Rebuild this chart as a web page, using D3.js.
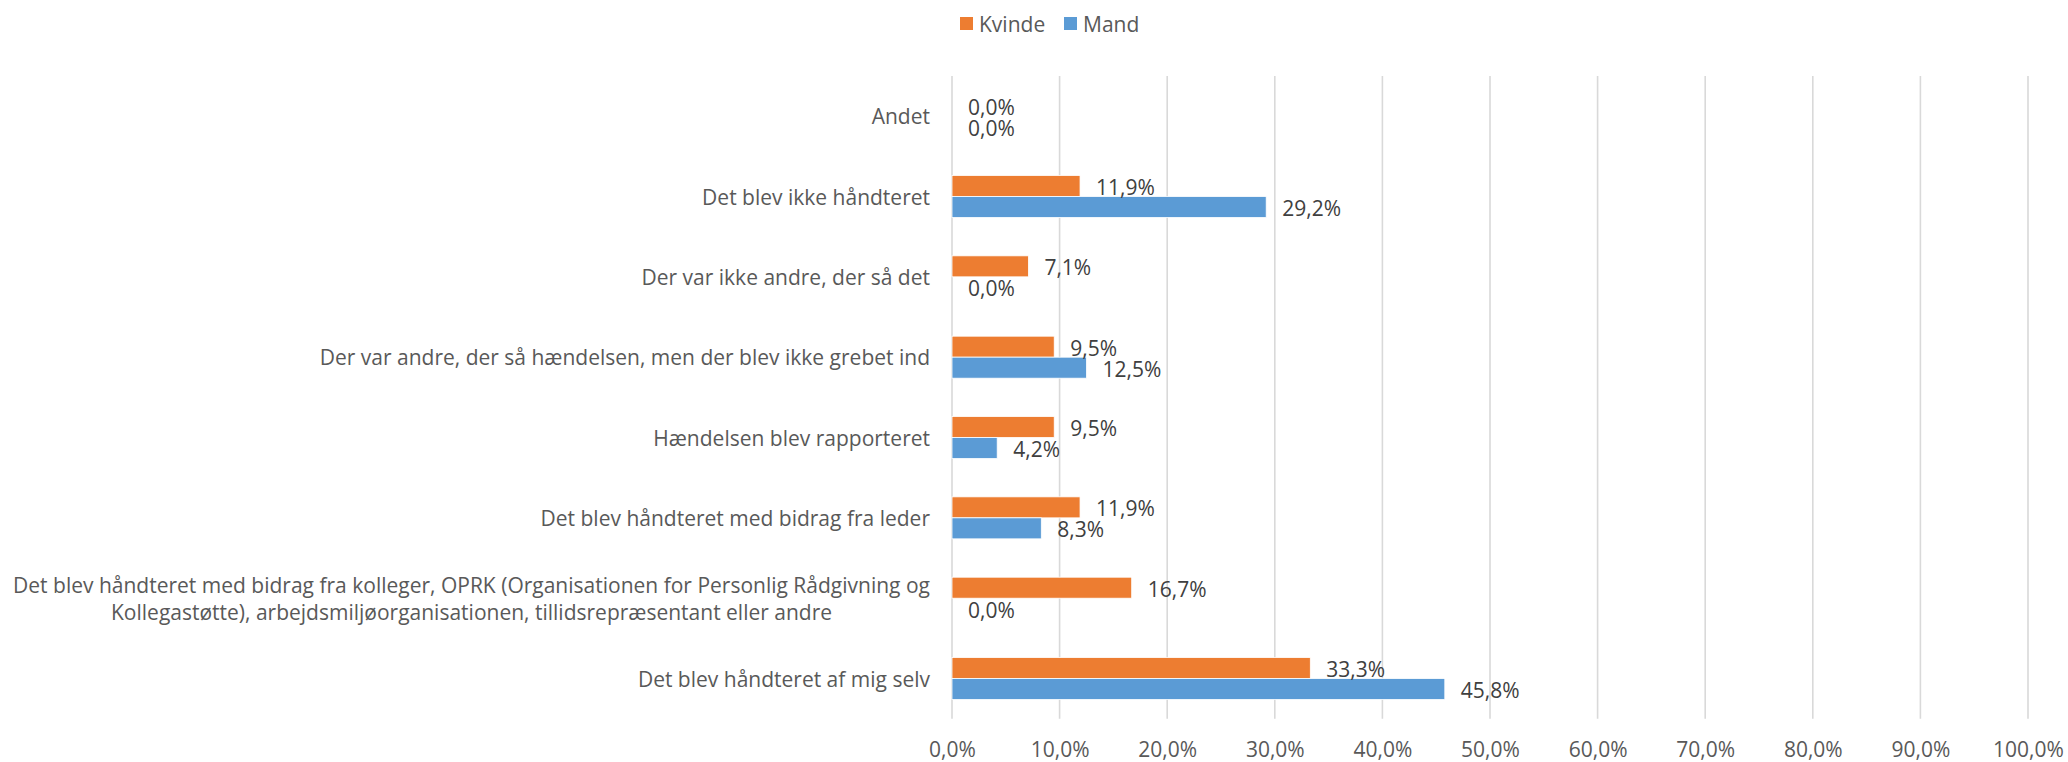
<!DOCTYPE html>
<html lang="da">
<head>
<meta charset="UTF-8" />
<title>Håndtering af hændelser</title>
<script src="https://d3js.org/d3.v7.min.js"></script>
<style>
  body { margin: 0; background: #fff; }
  text { font-family: "Open Sans", sans-serif; font-size: 21px; }
</style>
</head>
<body>
<script>
// kategorier (oppefra og ned), "\n" markerer linjeskift
const categories = [
  "Andet",
  "Det blev ikke håndteret",
  "Der var ikke andre, der så det",
  "Der var andre, der så hændelsen, men der blev ikke grebet ind",
  "Hændelsen blev rapporteret",
  "Det blev håndteret med bidrag fra leder",
  "Det blev håndteret med bidrag fra kolleger, OPRK (Organisationen for Personlig Rådgivning og\nKollegastøtte), arbejdsmiljøorganisationen, tillidsrepræsentant eller andre",
  "Det blev håndteret af mig selv"
];
const seriesNames = ["Kvinde", "Mand"];
const kvinde = [0, 11.9, 7.1, 9.5, 9.5, 11.9, 16.7, 33.3];
const mand = [0, 29.2, 0, 12.5, 4.2, 8.3, 0, 45.8];
const xTicks = [0, 10, 20, 30, 40, 50, 60, 70, 80, 90, 100];

const colors = { Kvinde: "#ED7D31", Mand: "#5B9BD5" };

const W = 2068, H = 762;
const plotLeft = 952, plotRight = 2028, plotTop = 76, plotBottom = 718.7;

const rows = categories.map((c, i) => ({ cat: c, Kvinde: kvinde[i], Mand: mand[i] }));

const svg = d3.select("body").append("svg")
  .attr("width", W).attr("height", H);

const x = d3.scaleLinear().domain([0, 100]).range([plotLeft, plotRight]);
const y = d3.scaleBand().domain(categories).range([plotTop, plotBottom]).padding(0);
const barH = 21;
const ySub = d3.scaleBand().domain(seriesNames)
  .range([y.bandwidth() / 2 - barH, y.bandwidth() / 2 + barH]);

const fmt = v => d3.format(".1f")(v).replace(".", ",") + "%";

// gitterlinjer
svg.append("g").selectAll("line")
  .data(xTicks).join("line")
  .attr("x1", d => x(d)).attr("x2", d => x(d))
  .attr("y1", plotTop).attr("y2", plotBottom)
  .attr("stroke", "#d9d9d9").attr("stroke-width", 1.6);

// x-akse
const xAxis = svg.append("g")
  .attr("transform", `translate(0,${plotBottom})`)
  .call(d3.axisBottom(x).tickValues(xTicks).tickSize(0).tickPadding(0).tickFormat(fmt));
xAxis.select(".domain").remove();
xAxis.selectAll("text")
  .attr("y", 0).attr("dy", 38)
  .attr("fill", "#595959")
  .style("font-family", "Open Sans").style("font-size", "21px");

// kategoriakse
const yAxis = svg.append("g")
  .attr("transform", `translate(${plotLeft},0)`)
  .call(d3.axisLeft(y).tickSize(0).tickPadding(22));
yAxis.select(".domain").remove();
yAxis.selectAll("text").each(function (d) {
  const t = d3.select(this);
  const lines = d.split("\n");
  const lh = 26.6;
  t.text(null).attr("dy", null).attr("fill", "#595959")
    .style("font-family", "Open Sans").style("font-size", "21px");
  if (lines.length === 1) {
    t.append("tspan").attr("x", -22).attr("dy", 8).text(lines[0]);
  } else {
    // centrerede linjer, højrestillet blok
    const widths = lines.map(l => {
      const s = t.append("tspan").text(l);
      const w = s.node().getComputedTextLength();
      s.remove();
      return w;
    });
    const maxW = d3.max(widths);
    t.attr("text-anchor", "middle");
    lines.forEach((l, k) => {
      t.append("tspan")
        .attr("x", -22 - maxW / 2)
        .attr("dy", k === 0 ? 8 - lh * (lines.length - 1) / 2 : lh)
        .text(l);
    });
  }
});

// søjler
const groups = svg.append("g").selectAll("g")
  .data(rows).join("g")
  .attr("transform", d => `translate(0,${y(d.cat)})`);

groups.selectAll("rect")
  .data(d => seriesNames.map(k => ({ key: k, value: d[k] })))
  .join("rect")
  .attr("x", x(0))
  .attr("y", d => ySub(d.key))
  .attr("width", d => x(d.value) - x(0))
  .attr("height", ySub.bandwidth())
  .attr("fill", d => colors[d.key])
  .attr("stroke", d => d.value > 0 ? "#fff" : "none")
  .attr("stroke-width", 0.8);

groups.selectAll("text.lbl")
  .data(d => seriesNames.map(k => ({ key: k, value: d[k] })))
  .join("text")
  .attr("class", "lbl")
  .attr("x", d => x(d.value) + 16)
  .attr("y", d => ySub(d.key) + ySub.bandwidth() / 2 + 9)
  .attr("fill", "#404040")
  .text(d => fmt(d.value));

// forklaring
const legend = svg.append("g").attr("transform", "translate(960,17)");
const legendX = [0, 104];
seriesNames.forEach((s, i) => {
  const g = legend.append("g").attr("transform", `translate(${legendX[i]},0)`);
  g.append("rect").attr("width", 13).attr("height", 13).attr("fill", colors[s]);
  g.append("text").attr("x", 19).attr("y", 14.5).attr("fill", "#595959").text(s);
});
</script>
</body>
</html>
